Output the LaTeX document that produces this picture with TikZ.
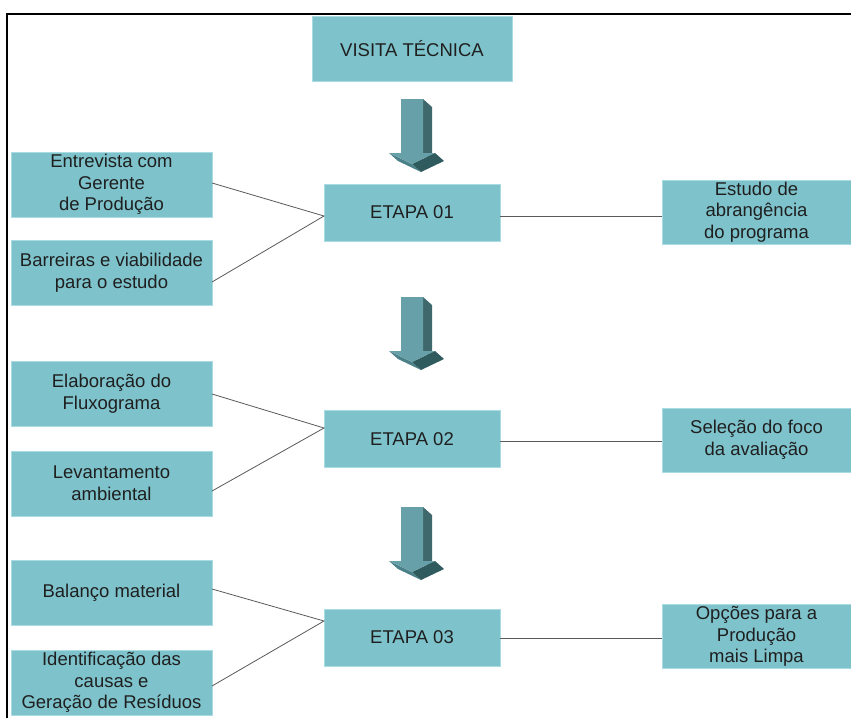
\documentclass[tikz,border=0pt]{standalone}
\usepackage{fontspec}
\setmainfont{Liberation Sans}
\definecolor{boxfill}{HTML}{7EC3CC}
\definecolor{boxedge}{HTML}{A9DCE2}
\definecolor{arrfront}{HTML}{67A0A8}
\definecolor{arrside}{HTML}{3E686C}
\definecolor{arrlowr}{HTML}{2F5A5E}
\definecolor{arrlowl}{HTML}{4C8088}
\definecolor{linkgray}{HTML}{5A5A5A}
\tikzset{
  box/.style={fill=boxfill, draw=boxedge, line width=0.5pt, inner sep=0pt, outer sep=0pt,
    align=center, text=black!88, font=\fontsize{18.5}{21.7}\selectfont},
  sidebox/.style={box, minimum width=201pt, minimum height=65pt},
  etapabox/.style={box, minimum width=176pt, minimum height=57pt},
  rbox/.style={box, minimum width=189pt, minimum height=64pt},
  topbox/.style={box, minimum width=200pt, minimum height=65pt},
  link/.style={draw=linkgray, line width=0.8pt},
  pics/downarrow/.style={code={
    \fill[arrside] (22,0) -- (31,8) -- (31,62) -- (22,54) -- cycle;
    \fill[arrlowr] (34,54) -- (43,62) -- (20,73) -- (11,65) -- cycle;
    \fill[arrlowl] (-12,54) -- (11,65) -- (20,73) -- (-3,62) -- cycle;
    \fill[arrfront] (0,0) -- (22,0) -- (22,54) -- (34,54) -- (11,65) -- (-12,54) -- (0,54) -- cycle;
  }}
}
\begin{document}
\begin{tikzpicture}[x=1pt,y=-1pt]
\useasboundingbox (0,0) rectangle (851,718);
\fill[white] (0,0) rectangle (851,718);
\draw[line width=2.5pt] (7,718) -- (7,14) -- (851,14);

\node[topbox] (V) at (412,48.5) {VISITA TÉCNICA};

\node[sidebox] (L1) at (111.5,184.5) {Entrevista com\\Gerente\\de Produção};
\node[sidebox] (L2) at (111.5,273) {Barreiras e viabilidade\\para o estudo};
\node[etapabox] (E1) at (412,212.5) {ETAPA 01};
\node[rbox] (R1) at (756.5,212) {Estudo de\\abrangência\\do programa};

\node[sidebox] (L3) at (111.5,394) {Elaboração do\\Fluxograma};
\node[sidebox] (L4) at (111.5,483.5) {Levantamento\\ambiental};
\node[etapabox] (E2) at (412,439) {ETAPA 02};
\node[rbox] (R2) at (756.5,440) {Seleção do foco\\da avaliação};

\node[sidebox] (L5) at (111.5,593) {Balanço material};
\node[sidebox] (L6) at (111.5,682.5) {Identificação das\\causas e\\Geração de Resíduos};
\node[etapabox] (E3) at (412,637.5) {ETAPA 03};
\node[rbox] (R3) at (756.5,636.5) {Opções para a\\Produção\\mais Limpa};

\pic at (401,99) {downarrow};
\pic at (401,297) {downarrow};
\pic at (401,507) {downarrow};

\draw[link] ([yshift=1.5pt]L1.east) -- ([yshift=-3.5pt]E1.west) -- ([yshift=-9pt]L2.east);
\draw[link] ([yshift=-3.5pt]E1.east) -- ([yshift=-3.5pt]E1.east -| R1.west);

\draw[link] (L3.east) -- ([yshift=11pt]E2.west) -- ([yshift=-7.5pt]L4.east);
\draw[link] ([yshift=-2pt]E2.east) -- ([yshift=-2pt]E2.east -| R2.west);

\draw[link] ([yshift=4pt]L5.east) -- ([yshift=16.5pt]E3.west) -- ([yshift=-3.5pt]L6.east);
\draw[link] ([yshift=-0.5pt]E3.east) -- ([yshift=-0.5pt]E3.east -| R3.west);
\end{tikzpicture}
\end{document}
